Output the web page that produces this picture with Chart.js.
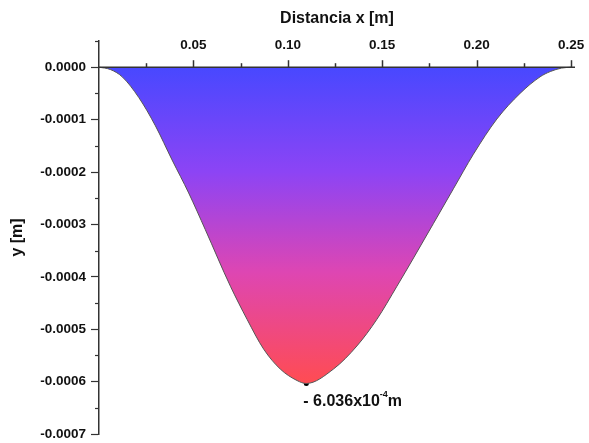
<!DOCTYPE html>
<html>
<head>
<meta charset="utf-8">
<script src="https://cdn.jsdelivr.net/npm/chart.js@4.4.1/dist/chart.umd.min.js"></script>
<style>
  html, body { margin: 0; padding: 0; background: #fff; }
  #wrap { width: 589px; height: 443px; position: relative; }
</style>
</head>
<body>
<div id="wrap"><canvas id="myChart"></canvas></div>
<script>
// valores (x en m, y en m)
const distX = [0, 0.006, 0.0123, 0.0211, 0.0299, 0.0387, 0.0475, 0.0563, 0.0696, 0.0784, 0.0872, 0.096, 0.1049, 0.1098,
               0.1242, 0.1366, 0.1472, 0.1578, 0.1666, 0.1877, 0.1983, 0.2107, 0.223, 0.2336, 0.239, 0.245, 0.25];
const deflY = [0, -0.0000044, -0.0000184, -0.000058, -0.000112, -0.000177, -0.00024, -0.00031, -0.000418, -0.000481,
               -0.000538, -0.000576, -0.000598, -0.0006036, -0.000576, -0.000532, -0.000481, -0.000418, -0.000364,
               -0.000232, -0.000166, -0.000099, -0.00005, -0.0000184, -0.0000083, -0.0000017, 0];
const xTicks = [0.05, 0.10, 0.15, 0.20, 0.25];
const yTicks = [0, -0.0001, -0.0002, -0.0003, -0.0004, -0.0005, -0.0006, -0.0007];
const minPoint = { x: 0.1098, y: -0.0006036 };
const minLabel = ['- 6.036x10', '-4', 'm'];

const fontFam = '"Liberation Sans", Arial, sans-serif';
const axisColor = '#333';

function fillGradient(context) {
    const chart = context.chart;
    const { ctx, chartArea, scales } = chart;
    if (!chartArea) return '#6a48ff';
    const y0 = scales.y.getPixelForValue(0);
    const y1 = scales.y.getPixelForValue(minPoint.y);
    const g = ctx.createLinearGradient(0, y0, 0, y1);
    g.addColorStop(0, 'rgb(72,72,255)');
    g.addColorStop(0.33, 'rgb(140,68,245)');
    g.addColorStop(0.65, 'rgb(222,70,178)');
    g.addColorStop(1, 'rgb(255,76,82)');
    return g;
}

// ejes: linea en y=0, ticks menores, etiqueta del minimo
const extrasPlugin = {
    id: 'extras',
    afterDraw(chart) {
        const { ctx, chartArea, scales } = chart;
        const xs = scales.x, ys = scales.y;
        const y0 = ys.getPixelForValue(0);
        ctx.save();
        ctx.strokeStyle = axisColor;
        ctx.lineWidth = 1.5;
        ctx.beginPath();
        ctx.moveTo(chartArea.left, y0);
        ctx.lineTo(chartArea.right, y0);
        ctx.stroke();
        // ticks del eje x (hacia arriba)
        for (let v = 0.025; v <= 0.2501; v += 0.025) {
            const px = Math.round(xs.getPixelForValue(v)) + 0.5;
            const major = Math.abs(v / 0.05 - Math.round(v / 0.05)) < 1e-6;
            ctx.beginPath();
            ctx.moveTo(px, y0);
            ctx.lineTo(px, y0 - (major ? 7 : 4));
            ctx.stroke();
        }
        // ticks menores del eje y
        ctx.lineWidth = 1.2;
        for (let v = 0.00005; v > -0.00071; v -= 0.0001) {
            const py = Math.round(ys.getPixelForValue(v)) + 0.5;
            ctx.beginPath();
            ctx.moveTo(chartArea.left, py);
            ctx.lineTo(chartArea.left - 4, py);
            ctx.stroke();
        }
        // etiqueta del minimo
        const pt = chart.getDatasetMeta(1).data[0];
        let tx = pt.x - 3, ty = pt.y + 18;
        ctx.fillStyle = '#111';
        ctx.textBaseline = 'middle';
        ctx.textAlign = 'left';
        ctx.font = 'bold 16px ' + fontFam;
        ctx.fillText(minLabel[0], tx, ty);
        tx += ctx.measureText(minLabel[0]).width;
        ctx.font = 'bold 9px ' + fontFam;
        ctx.fillText(minLabel[1], tx, ty - 7);
        tx += ctx.measureText(minLabel[1]).width;
        ctx.font = 'bold 16px ' + fontFam;
        ctx.fillText(minLabel[2], tx, ty);
        ctx.restore();
    }
};

const ctx = document.getElementById('myChart').getContext('2d');
new Chart(ctx, {
    type: 'line',
    data: {
        datasets: [{
            label: 'y',
            data: distX.map((x, i) => ({ x: x, y: deflY[i] })),
            borderColor: '#555',
            borderWidth: 1,
            pointRadius: 0,
            cubicInterpolationMode: 'monotone',
            fill: 'origin',
            backgroundColor: fillGradient
        }, {
            label: 'min',
            data: [minPoint],
            showLine: false,
            pointRadius: 2.5,
            pointBackgroundColor: '#000',
            pointBorderColor: '#000',
            pointBorderWidth: 0
        }]
    },
    options: {
        responsive: true,
        maintainAspectRatio: false,
        animation: false,
        layout: { padding: { left: 0, top: 0, right: 14, bottom: 9 } },
        plugins: {
            legend: { display: false },
            tooltip: { enabled: false }
        },
        scales: {
            x: {
                type: 'linear',
                position: 'top',
                min: 0,
                max: 0.2521,
                afterBuildTicks: s => { s.ticks = xTicks.map(v => ({ value: v })); },
                afterFit: s => { s.height = 41; s.paddingLeft = 0; s.paddingRight = 0; },
                grid: { display: false, drawTicks: false },
                border: { display: false },
                ticks: {
                    mirror: true,
                    padding: -4,
                    color: '#111',
                    font: { family: fontFam, size: 13.5, weight: 'bold' },
                    maxRotation: 0,
                    callback: v => v.toFixed(2)
                },
                title: {
                    display: true,
                    text: 'Distancia x [m]',
                    color: '#111',
                    font: { family: fontFam, size: 16, weight: 'bold' },
                    padding: { top: 9, bottom: 0 }
                }
            },
            y: {
                type: 'linear',
                min: -0.0007,
                max: 0.00005,
                afterBuildTicks: s => { s.ticks = yTicks.map(v => ({ value: v })); },
                afterFit: s => { s.width = 99; s.paddingTop = 0; s.paddingBottom = 0; },
                grid: { drawOnChartArea: false, drawTicks: true, tickLength: 8, tickColor: axisColor, tickWidth: 1.2 },
                border: { display: true, color: axisColor, width: 1.5 },
                ticks: {
                    padding: 5,
                    color: '#111',
                    font: { family: fontFam, size: 13.5, weight: 'bold' },
                    callback: v => v.toFixed(4)
                },
                title: {
                    display: true,
                    text: 'y [m]',
                    color: '#111',
                    font: { family: fontFam, size: 16, weight: 'bold' },
                    padding: { top: 8, bottom: 0 }
                }
            }
        }
    },
    plugins: [extrasPlugin]
});
</script>
</body>
</html>
